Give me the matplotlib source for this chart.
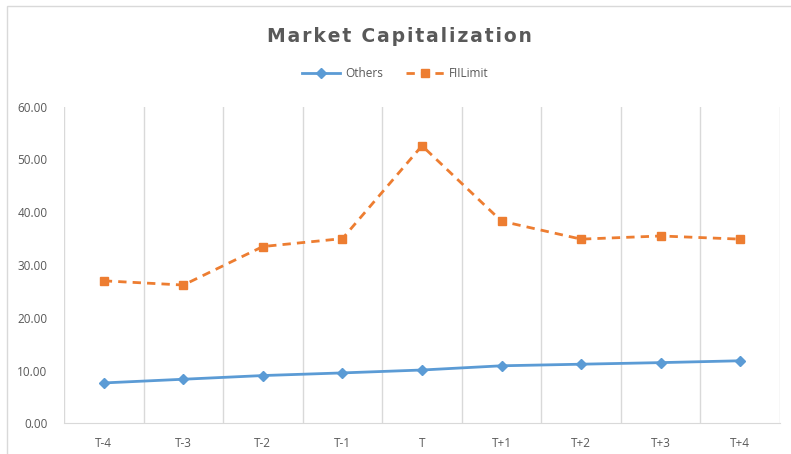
import matplotlib.pyplot as plt
from matplotlib.patches import Rectangle

# data
periods = ["T-4", "T-3", "T-2", "T-1", "T", "T+1", "T+2", "T+3", "T+4"]
others = [7.65, 8.35, 9.05, 9.55, 10.1, 10.9, 11.2, 11.5, 11.85]
fii_limit = [27.0, 26.2, 33.5, 35.0, 52.6, 38.3, 34.9, 35.5, 34.9]
y_ticks = [0, 10, 20, 30, 40, 50, 60]

text_color = "#595959"
grid_color = "#d9d9d9"
plt.rcParams["font.family"] = ["Open Sans", "DejaVu Sans"]

fig = plt.figure(figsize=(7.91, 4.54), dpi=100)
# outer chart border (only top/left visible in the reference)
fig.patches.append(
    Rectangle((7 / 791, -0.1), 1.1, (454 - 6) / 454 + 0.1, transform=fig.transFigure,
              fill=False, edgecolor=grid_color, linewidth=1.0)
)

ax = fig.add_axes([64 / 791, 30.7 / 454, (780 - 64) / 791, 316.6 / 454])
x = list(range(len(periods)))

ax.plot(x, others, color="#5B9BD5", linewidth=2.0, marker="D", markersize=5.5,
        label="Others", zorder=3)
ax.plot(x, fii_limit, color="#ED7D31", linewidth=2.0, linestyle=(0, (3, 2.2)),
        marker="s", markersize=6, label="FIILimit", zorder=3)

ax.set_xlim(-0.5, len(periods) - 0.5)
ax.set_ylim(0, 60)
ax.set_xticks(x)
ax.set_xticklabels(periods)
ax.set_yticks(y_ticks)
ax.set_yticklabels(["{:.2f}".format(v) for v in y_ticks])

# vertical category gridlines
for b in range(len(periods) + 1):
    ax.axvline(b - 0.5, color=grid_color, linewidth=1.0, zorder=1)

for side in ["top", "right", "left"]:
    ax.spines[side].set_visible(False)
ax.spines["bottom"].set_color(grid_color)
ax.tick_params(axis="both", length=0, labelsize=8.5, labelcolor=text_color)
ax.tick_params(axis="y", pad=12)
ax.tick_params(axis="x", pad=10)

# letter-spaced title, like the reference
title = "Market Capitalization"
fig.text(0.505, 1 - 36 / 454, "\u200a".join(title), ha="center", va="center",
         fontsize=13.5, fontweight="bold", color=text_color,
         family=["DejaVu Sans"])
fig.legend(loc="center", bbox_to_anchor=(0.5, 1 - 74 / 454), ncol=2, frameon=False,
           fontsize=8.5, labelcolor=text_color, handlelength=3.2, columnspacing=2.0,
           handletextpad=0.4)

fig.savefig("out.png", dpi=100)
